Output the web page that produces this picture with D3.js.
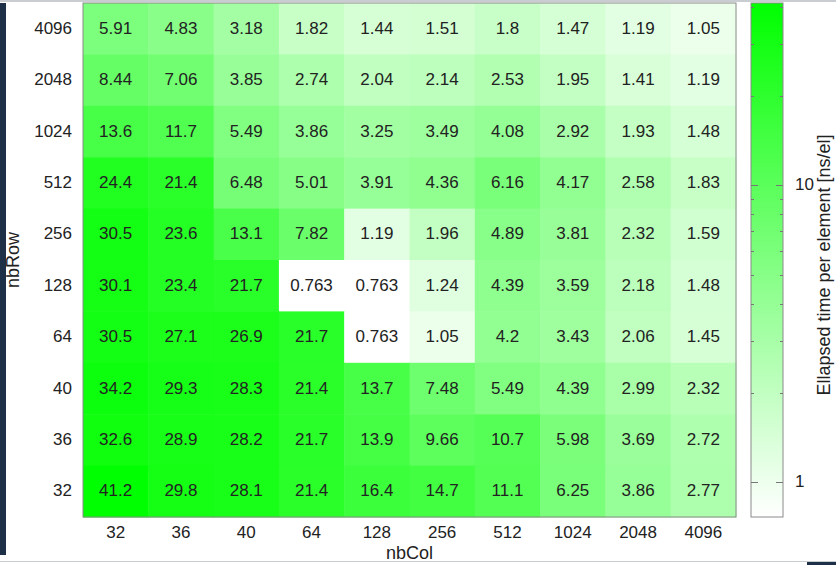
<!DOCTYPE html>
<html>
<head>
<meta charset="utf-8">
<script src="https://cdn.jsdelivr.net/npm/d3@7"></script>
<style>
  body { margin: 0; background: #fff; }
  text { font-family: "Liberation Sans", Arial, sans-serif; fill: #222; }
</style>
</head>
<body>
<svg id="chart"></svg>
<script>
// column / row categories
var nbCol = ['32', '36', '40', '64', '128', '256', '512', '1024', '2048', '4096'];
var nbRow = ['4096', '2048', '1024', '512', '256', '128', '64', '40', '36', '32'];

// elapsed time per element [ns/el], one array per row (top to bottom)
var row4096 = [5.91, 4.83, 3.18, 1.82, 1.44, 1.51, 1.8, 1.47, 1.19, 1.05];
var row2048 = [8.44, 7.06, 3.85, 2.74, 2.04, 2.14, 2.53, 1.95, 1.41, 1.19];
var row1024 = [13.6, 11.7, 5.49, 3.86, 3.25, 3.49, 4.08, 2.92, 1.93, 1.48];
var row512  = [24.4, 21.4, 6.48, 5.01, 3.91, 4.36, 6.16, 4.17, 2.58, 1.83];
var row256  = [30.5, 23.6, 13.1, 7.82, 1.19, 1.96, 4.89, 3.81, 2.32, 1.59];
var row128  = [30.1, 23.4, 21.7, 0.763, 0.763, 1.24, 4.39, 3.59, 2.18, 1.48];
var row64   = [30.5, 27.1, 26.9, 21.7, 0.763, 1.05, 4.2, 3.43, 2.06, 1.45];
var row40   = [34.2, 29.3, 28.3, 21.4, 13.7, 7.48, 5.49, 4.39, 2.99, 2.32];
var row36   = [32.6, 28.9, 28.2, 21.7, 13.9, 9.66, 10.7, 5.98, 3.69, 2.72];
var row32   = [41.2, 29.8, 28.1, 21.4, 16.4, 14.7, 11.1, 6.25, 3.86, 2.77];

var cbTicks = [1, 10];
var cbMinor = [2, 3, 4, 5, 6, 7, 8, 9, 20, 30, 40];

var rows = [row4096, row2048, row1024, row512, row256, row128, row64, row40, row36, row32];

var W = 836, H = 565;
var plotL = 83, plotR = 736, plotT = 3, plotB = 517;
var cbLeft = 751, cbRight = 783;

var svg = d3.select('#chart').attr('width', W).attr('height', H);

// screenshot frame bits
svg.append('rect').attr('x', 0).attr('y', 0).attr('width', W).attr('height', 2).attr('fill', '#c9ccd1');
svg.append('rect').attr('x', 0).attr('y', 3).attr('width', 6).attr('height', 552).attr('fill', '#1e3048');
svg.append('rect').attr('x', 0).attr('y', 561).attr('width', W).attr('height', 1).attr('fill', '#c9ccd1');
svg.append('rect').attr('x', 807).attr('y', 562).attr('width', 29).attr('height', 3).attr('fill', '#1e3048');

var cells = [];
rows.forEach(function (r, i) {
  r.forEach(function (v, j) {
    cells.push({ row: nbRow[i], col: nbCol[j], value: v });
  });
});

var allValues = d3.merge(rows);
var vmin = d3.min(allValues), vmax = d3.max(allValues);

var x = d3.scaleBand().domain(nbCol).range([plotL, plotR]);
var y = d3.scaleBand().domain(nbRow).range([plotT, plotB]);
var t = d3.scaleLog().domain([vmin, vmax]).range([0, 1]).clamp(true);
var color = function (v) { return d3.interpolateRgb('#ffffff', '#00ff00')(t(v)); };

var g = svg.append('g');
g.selectAll('rect.cell').data(cells).enter().append('rect')
  .attr('class', 'cell')
  .attr('x', function (d) { return x(d.col); })
  .attr('y', function (d) { return y(d.row); })
  .attr('width', x.bandwidth() + 0.5)
  .attr('height', y.bandwidth() + 0.5)
  .attr('fill', function (d) { return color(d.value); });

g.selectAll('text.val').data(cells).enter().append('text')
  .attr('class', 'val')
  .attr('x', function (d) { return x(d.col) + x.bandwidth() / 2; })
  .attr('y', function (d) { return y(d.row) + y.bandwidth() / 2 + 5; })
  .attr('text-anchor', 'middle')
  .style('font-size', '17px')
  .text(function (d) { return d.value; });

svg.append('rect').attr('x', plotL).attr('y', plotT).attr('width', plotR - plotL).attr('height', plotB - plotT)
  .attr('fill', 'none').attr('stroke', '#8a8a8a').attr('stroke-width', 1);

// axis labels
svg.selectAll('text.xt').data(nbCol).enter().append('text')
  .attr('class', 'xt')
  .attr('x', function (d) { return x(d) + x.bandwidth() / 2; })
  .attr('y', 538)
  .attr('text-anchor', 'middle')
  .style('font-size', '17px')
  .text(function (d) { return d; });

svg.selectAll('text.yt').data(nbRow).enter().append('text')
  .attr('class', 'yt')
  .attr('x', 72)
  .attr('y', function (d) { return y(d) + y.bandwidth() / 2 + 5; })
  .attr('text-anchor', 'end')
  .style('font-size', '17px')
  .text(function (d) { return d; });

svg.append('text').attr('x', (plotL + plotR) / 2).attr('y', 559)
  .attr('text-anchor', 'middle').style('font-size', '18px').text('nbCol');

svg.append('text').attr('transform', 'translate(19,' + ((plotT + plotB) / 2) + ') rotate(-90)')
  .attr('text-anchor', 'middle').style('font-size', '18px').text('nbRow');

// colour box
var cb = d3.scaleLog().domain([vmin, vmax]).range([plotB, plotT]);
var steps = d3.range(plotT, plotB, 1);
svg.selectAll('rect.cb').data(steps).enter().append('rect')
  .attr('class', 'cb')
  .attr('x', cbLeft).attr('y', function (d) { return d; })
  .attr('width', cbRight - cbLeft).attr('height', 1.5)
  .attr('fill', function (d) { return color(cb.invert(d + 0.5)); });

svg.append('rect').attr('x', cbLeft).attr('y', plotT).attr('width', cbRight - cbLeft).attr('height', plotB - plotT)
  .attr('fill', 'none').attr('stroke', '#8a8a8a').attr('stroke-width', 1);

function cbTickMarks(vals, len) {
  vals.forEach(function (v) {
    var yy = Math.round(cb(v)) + 0.5;
    svg.append('line').attr('x1', cbLeft).attr('x2', cbLeft + len).attr('y1', yy).attr('y2', yy)
      .attr('stroke', '#777').attr('stroke-width', 1);
    svg.append('line').attr('x1', cbRight - len).attr('x2', cbRight).attr('y1', yy).attr('y2', yy)
      .attr('stroke', '#777').attr('stroke-width', 1);
  });
}
cbTickMarks(cbTicks, 7);
cbTickMarks(cbMinor, 3);

svg.selectAll('text.cbt').data(cbTicks).enter().append('text')
  .attr('class', 'cbt')
  .attr('x', 795)
  .attr('y', function (d) { return cb(d) + 5; })
  .style('font-size', '17px')
  .text(function (d) { return d; });

svg.append('text').attr('transform', 'translate(830,265) rotate(-90)')
  .attr('text-anchor', 'middle').style('font-size', '18px').text('Ellapsed time per element [ns/el]');
</script>
</body>
</html>
